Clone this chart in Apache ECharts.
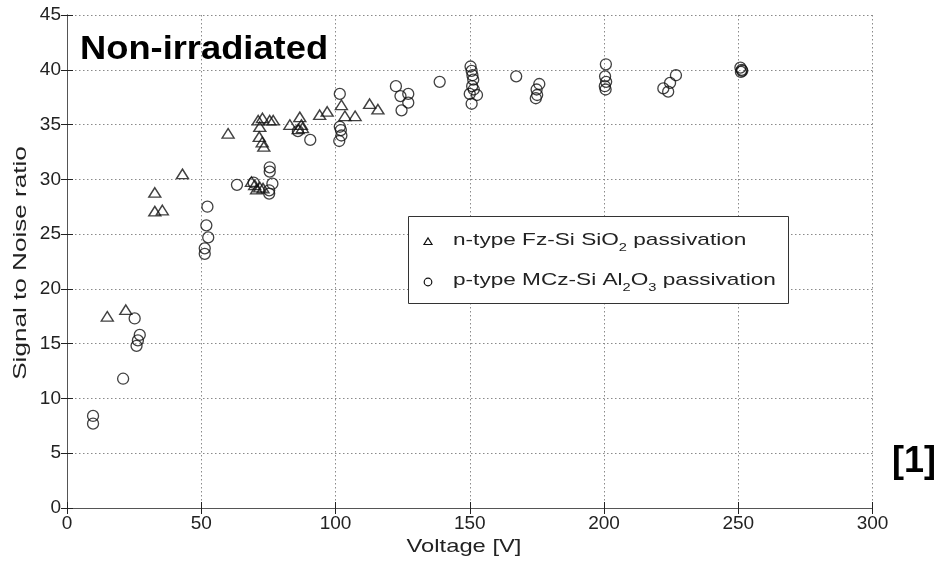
<!DOCTYPE html>
<html>
<head>
<meta charset="utf-8">
<script src="https://cdn.jsdelivr.net/npm/echarts@6/dist/echarts.min.js"></script>
<style>html,body{margin:0;padding:0;background:#fff;}#c{width:939px;height:561px;}</style>
</head>
<body>
<div id="c"></div>
<script>
// n-type Fz-Si SiO2 passivation: [voltage, S/N]
const nTypeFz = [
  [15.0,17.5],[21.9,18.1],[32.7,28.8],[32.7,27.1],[35.5,27.2],[43.0,30.5],[60.0,34.2],
  [68.7,29.8],[69.9,29.5],[70.6,29.1],[71.8,29.3],[73.0,29.2],
  [71.2,35.4],[72.8,35.6],[71.8,34.8],[71.6,33.9],[72.7,33.4],[73.3,33.0],[75.5,35.4],[76.8,35.4],
  [83.0,35.0],[86.7,35.7],[87.3,35.0],[86.1,34.6],[87.7,34.7],
  [94.1,35.9],[96.9,36.2],[102.2,36.8],[103.5,35.8],[107.3,35.8],[112.7,36.9],[115.8,36.4]
];
// p-type MCz-Si Al2O3 passivation: [voltage, S/N]
const pTypeMCz = [
  [9.7,8.4],[9.7,7.7],[20.9,11.8],[25.2,17.3],[27.1,15.8],[26.4,15.3],[25.9,14.8],
  [52.3,27.5],[51.9,25.8],[52.6,24.7],[51.3,23.7],[51.3,23.2],
  [63.3,29.5],[69.5,29.7],
  [75.5,31.1],[75.5,30.7],[76.5,29.6],[75.3,29.0],[75.3,28.7],
  [86.0,34.4],[90.6,33.6],
  [101.6,37.8],[101.6,34.8],[102.0,34.5],[102.2,34.0],[101.4,33.5],
  [122.5,38.5],[124.2,37.6],[127.1,37.8],[127.1,37.0],[124.6,36.3],
  [138.8,38.9],
  [150.3,40.3],[150.7,39.9],[151.0,39.5],[151.3,39.1],[150.9,38.5],[151.5,38.2],[150.0,37.8],[152.7,37.7],[150.7,36.9],
  [167.3,39.4],
  [175.9,38.7],[174.9,38.2],[175.1,37.7],[174.6,37.4],
  [200.7,40.5],[200.4,39.4],[200.8,38.9],[200.3,38.5],[200.6,38.2],
  [226.8,39.5],[224.6,38.8],[222.1,38.3],[223.9,38.0],
  [250.8,40.2],[251.3,40.0],[251.0,39.8],[251.5,39.9]
];
const xTicks = [0, 50, 100, 150, 200, 250, 300];
const yTicks = [0, 5, 10, 15, 20, 25, 30, 35, 40, 45];

const FONT = "'Liberation Sans', Arial, sans-serif";
const chart = echarts.init(document.getElementById('c'), null, {renderer: 'canvas'});

const gridLine = {show: true, lineStyle: {color: '#8a8a8a', type: [1.5, 2.5], width: 1}};
const axisLineStyle = {show: true, lineStyle: {color: '#555', width: 1}};

chart.setOption({
  animation: false,
  backgroundColor: '#fff',
  grid: {left: 67, right: 66.5, top: 15, bottom: 53, containLabel: false},
  xAxis: [{
    type: 'value', min: xTicks[0], max: xTicks[xTicks.length - 1], interval: 50,
    axisLine: axisLineStyle,
    axisTick: {show: true, inside: true, length: 6, lineStyle: {color: '#222'}},
    axisLabel: {fontFamily: FONT, fontSize: 19, color: '#222', margin: 6},
    splitLine: gridLine
  }, {
    type: 'value', position: 'top', min: 0, max: 300, interval: 50,
    axisLine: axisLineStyle,
    axisTick: {show: true, inside: true, length: 6, lineStyle: {color: '#222'}},
    axisLabel: {show: false}, splitLine: {show: false}
  }],
  yAxis: [{
    type: 'value', min: yTicks[0], max: yTicks[yTicks.length - 1], interval: 5,
    axisLine: axisLineStyle,
    axisTick: {show: true, inside: true, length: 6, lineStyle: {color: '#222'}},
    axisLabel: {fontFamily: FONT, fontSize: 19, color: '#222', margin: 6},
    splitLine: gridLine
  }, {
    type: 'value', position: 'right', min: 0, max: 45, interval: 5,
    axisLine: axisLineStyle,
    axisTick: {show: true, inside: true, length: 6, lineStyle: {color: '#222'}},
    axisLabel: {show: false}, splitLine: {show: false}
  }],
  series: [{
    name: 'n-type Fz-Si SiO2 passivation',
    type: 'scatter', xAxisIndex: 0, yAxisIndex: 0,
    symbol: 'triangle', symbolSize: [12, 9.5],
    itemStyle: {color: 'rgba(255,255,255,0)', borderColor: '#111', borderWidth: 1.4},
    data: nTypeFz
  }, {
    name: 'p-type MCz-Si Al2O3 passivation',
    type: 'scatter', xAxisIndex: 0, yAxisIndex: 0,
    symbol: 'circle', symbolSize: 11,
    itemStyle: {color: 'rgba(255,255,255,0)', borderColor: '#111', borderWidth: 1.3},
    data: pTypeMCz
  }],
  graphic: [
    {type: 'text', x: 80, y: 50, scaleX: 1.1, z: 10,
     style: {text: 'Non-irradiated', font: "bold 33px " + FONT, fill: '#000', verticalAlign: 'middle'}},
    {type: 'text', right: 3, top: 444, z: 10,
     style: {text: '[1]', font: "bold 36px " + FONT, fill: '#000'}},
    {type: 'text', x: 21, y: 263, rotation: Math.PI / 2, scaleX: 1.45, z: 10,
     style: {text: 'Signal to Noise ratio', font: "18px " + FONT, fill: '#222', align: 'center', verticalAlign: 'middle'}},
    {type: 'text', x: 464, y: 547, scaleX: 1.25, z: 10,
     style: {text: 'Voltage [V]', font: "19px " + FONT, fill: '#222', align: 'center', verticalAlign: 'middle'}},
    {type: 'rect', shape: {x: 408.5, y: 216.5, width: 380, height: 87}, z: 20,
     style: {fill: '#fff', stroke: '#333', lineWidth: 1}},
    {type: 'polygon', shape: {points: [[424, 244.5], [432, 244.5], [428, 238]]}, z: 21,
     style: {fill: 'none', stroke: '#111', lineWidth: 1.2}},
    {type: 'circle', shape: {cx: 428, cy: 282, r: 3.8}, z: 21,
     style: {fill: 'none', stroke: '#111', lineWidth: 1.2}},
    {type: 'text', x: 453, y: 240, scaleX: 1.33, z: 21,
     style: {text: 'n-type Fz-Si SiO{sub|2} passivation', font: "17px " + FONT, fill: '#222',
       verticalAlign: 'middle',
       rich: {sub: {fontFamily: FONT, fontSize: 11, fill: '#222', verticalAlign: 'bottom', lineHeight: 26}}}},
    {type: 'text', x: 453, y: 280, scaleX: 1.33, z: 21,
     style: {text: 'p-type MCz-Si Al{sub|2}O{sub|3} passivation', font: "17px " + FONT, fill: '#222',
       verticalAlign: 'middle',
       rich: {sub: {fontFamily: FONT, fontSize: 11, fill: '#222', verticalAlign: 'bottom', lineHeight: 26}}}}
  ]
});
</script>
</body>
</html>
